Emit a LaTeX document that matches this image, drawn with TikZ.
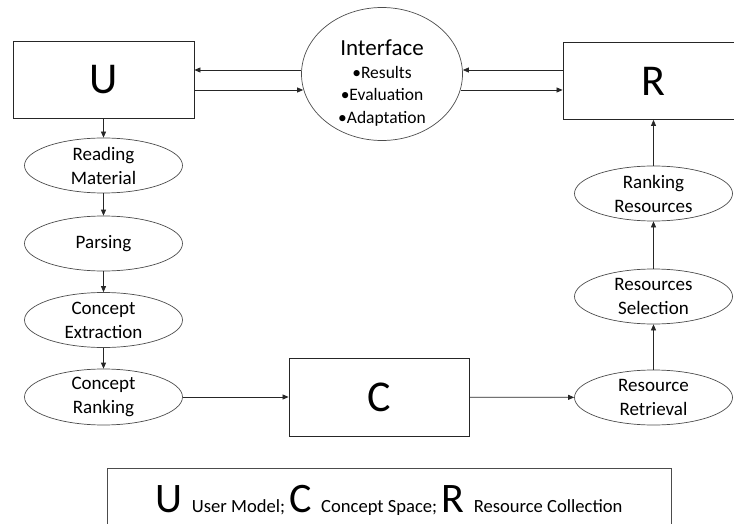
\documentclass[tikz,border=0pt]{standalone}
\usepackage{fontspec}
\setmainfont{Carlito}
\usetikzlibrary{shapes.geometric,arrows.meta}
\begin{document}
\begin{tikzpicture}[x=1pt, y=-1pt,
		box/.style = {draw=black!85, line width=0.8pt, minimum width=181pt, minimum height=77pt, font=\fontsize{44}{48}\selectfont},
		oval/.style = {ellipse, draw=black!70, line width=0.7pt, minimum width=158pt, minimum height=55pt, inner sep=0pt, align=center, font=\fontsize{19}{24}\selectfont},
		arr/.style = {draw=black!85, line width=0.7pt, -{Triangle[length=6pt,width=5pt]}}]
		\clip (0,0) rectangle (734,524);
		\node [box] (U) at (103.5,79.5) {U};
		\node [box] (R) at (653.5,81) {R};
		\node [box, minimum width=180pt, minimum height=78pt] (C) at (379,397) {C};
		\node [ellipse, draw=black!70, line width=0.7pt, minimum width=161pt, minimum height=133pt] (iface) at (382,74) {};
		\node [align=center, inner sep=0pt, font=\fontsize{17.5}{22.7}\selectfont] (ifacetxt) at (382,83) {{\fontsize{23}{24}\selectfont Interface}\\•Results\\•Evaluation\\•Adaptation};
		% left column
		\node [oval] (read) at (103.5,165.5) {Reading\\Material};
		\node [oval] (pars) at (103.5,243.5) {Parsing};
		\node [oval] (cext) at (103.5,320) {Concept\\Extraction};
		\node [oval] (crank) at (103.5,397) {Concept\\Ranking};
		% right column
		\node [oval] (rret) at (653.5,397.5) {Resource\\Retrieval};
		\node [oval] (rsel) at (653.5,296.5) {Resources\\Selection};
		\node [oval] (rrank) at (653.5,193.5) {Ranking\\Resources};
		% legend
		\node [draw=black!70, line width=0.8pt, minimum width=564pt, minimum height=80pt] (legend) at (389,508) {};
		\node [anchor=base, inner sep=0pt, font=\fontsize{18.6}{24}\selectfont] (legendtxt) at (389,512) {{\fontsize{42}{48}\selectfont U }User Model; {\fontsize{42}{48}\selectfont C }Concept Space; {\fontsize{42}{48}\selectfont R }Resource Collection};
		\draw [arr] ([yshift=4pt]iface.west) -- ([yshift=9.5pt]U.east);
		\draw [arr] ([yshift=-10.5pt]U.east) -- ([xshift=2pt, yshift=-16pt]iface.west);
		\draw [arr] ([xshift=-2pt, yshift=-16pt]iface.east) -- ([yshift=-9pt]R.west);
		\draw [arr] ([yshift=11pt]R.west) -- ([yshift=4pt]iface.east);
		\draw [arr] (U) -- (read);
		\draw [arr] (read) -- (pars);
		\draw [arr] (pars) -- (cext);
		\draw [arr] (cext) -- (crank);
		\draw [arr] (crank) -- (C);
		\draw [arr] (C) -- (rret);
		\draw [arr] (rret) -- (rsel);
		\draw [arr] (rsel) -- (rrank);
		\draw [arr] (rrank) -- (R);
\end{tikzpicture}
\end{document}
